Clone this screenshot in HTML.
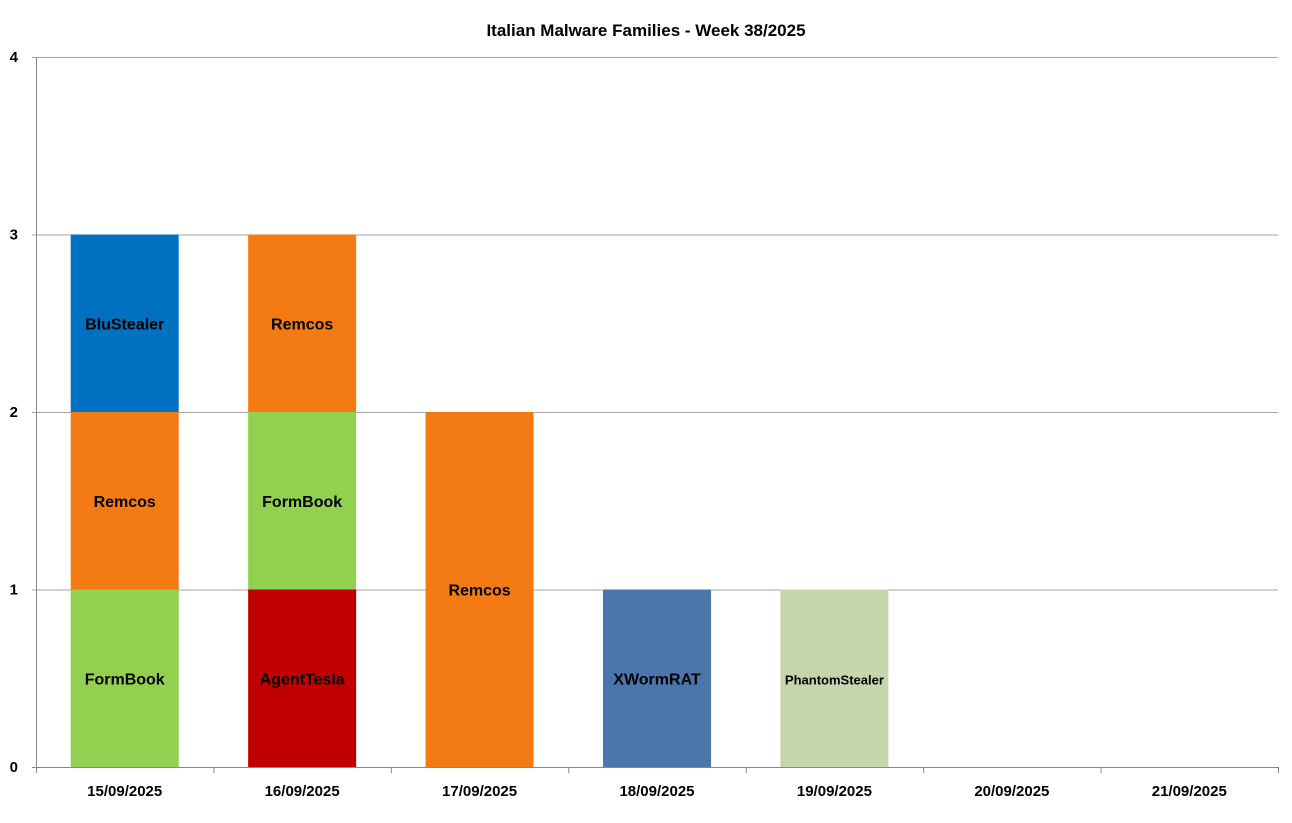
<!DOCTYPE html>
<html><head><meta charset="utf-8"><style>
body{margin:0;background:#fff}
svg text{font-family:"Liberation Sans",Arial,sans-serif;font-weight:bold;fill:#000}
</style></head><body>
<svg id="chart" width="1292" height="818" xmlns="http://www.w3.org/2000/svg">
<text x="646" y="36" text-anchor="middle" font-size="17">Italian Malware Families - Week 38/2025</text>
<g id="grid"></g><g id="bars"></g><g id="axes"></g>
</svg>
<script>
const days=["15/09/2025","16/09/2025","17/09/2025","18/09/2025","19/09/2025","20/09/2025","21/09/2025"];
const families=["AgentTesla","FormBook","Remcos","BluStealer","XWormRAT","PhantomStealer"];
const colors=["#c00000","#92d050","#f47b14","#0070c0","#4a76ac","#c6d6ac"];
const agentTesla=[0,1,0,0,0,0,0];
const formBook=[1,1,0,0,0,0,0];
const remcos=[1,1,2,0,0,0,0];
const bluStealer=[1,0,0,0,0,0,0];
const xWormRAT=[0,0,0,1,0,0,0];
const phantomStealer=[0,0,0,0,1,0,0];
const yTicks=[0,1,2,3,4];
const series=[agentTesla,formBook,remcos,bluStealer,xWormRAT,phantomStealer];
const NS="http://www.w3.org/2000/svg";
const L=36,R=1278,T=57,B=767,yMax=4;
const bw=(R-L)/days.length, barW=108;
const y=v=>B-(v/yMax)*(B-T);
const xc=i=>L+bw*(i+0.5);
function mk(tag,attrs,parent){const e=document.createElementNS(NS,tag);for(const k in attrs)e.setAttribute(k,attrs[k]);document.getElementById(parent).appendChild(e);return e;}
yTicks.forEach(t=>{
  const g=mk("line",{x1:L-4,x2:R,y1:y(t)+0.5,y2:y(t)+0.5,stroke:t===0?"#868686":"#a6a6a6","stroke-width":1},"grid");
  
  
  const tx=mk("text",{x:L-18,y:y(t)+5,"text-anchor":"end","font-size":15},"axes");
  tx.textContent=t;
  
  
});
const ax=mk("line",{x1:L+0.5,x2:L+0.5,y1:T,y2:B,stroke:"#868686"},"axes");


for(let i=0;i<=days.length;i++){
  const tk=mk("line",{x1:L+bw*i+0.5,x2:L+bw*i+0.5,y1:B,y2:B+6,stroke:"#868686"},"axes");
  
  
}
days.forEach((d,i)=>{
  const tx=mk("text",{x:xc(i),y:B+29,"text-anchor":"middle","font-size":15},"axes");
  tx.textContent=d;
  
  
  let base=0;
  series.forEach((s,k)=>{
    const v=s[i]; if(!v) return;
    const r=mk("rect",{x:xc(i)-barW/2,y:y(base+v),width:barW,height:y(base)-y(base+v),fill:colors[k]},"bars");
    
    
    const lb=mk("text",{x:xc(i),y:(y(base)+y(base+v))/2+6,"text-anchor":"middle","font-size":families[k].length>12?13:16},"bars");
    lb.textContent=families[k];
    
    
    base+=v;
  });
});
</script>
</body></html>
